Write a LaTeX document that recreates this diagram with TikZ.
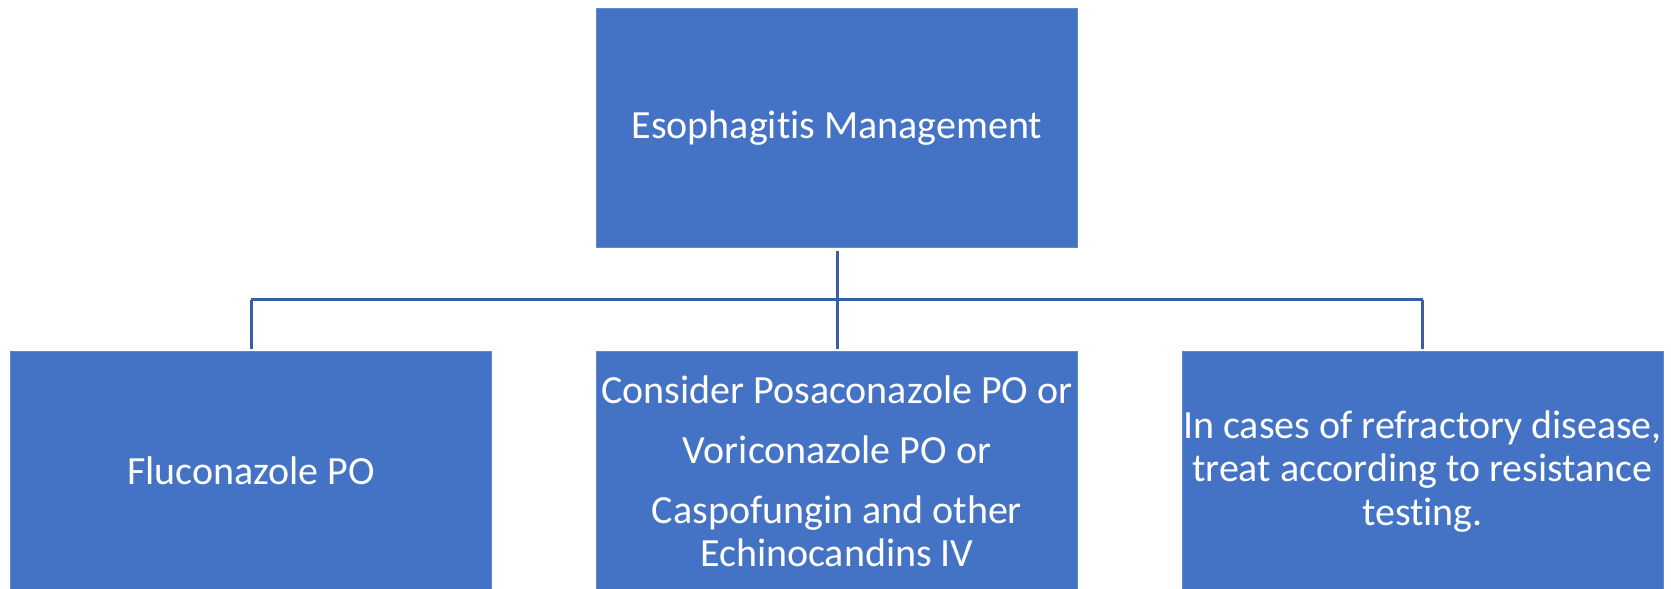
\documentclass[tikz,border=0pt]{standalone}
\usepackage{fontspec}
\setmainfont{Carlito}[Ligatures=NoCommon]
\definecolor{boxblue}{HTML}{4472C4}
\definecolor{lineblue}{HTML}{3A5DA6}
\begin{document}
\begin{tikzpicture}[x=0.5pt, y=0.5pt, line join=round,
	box/.style={fill=boxblue, draw=boxblue!85!white, line width=0.4pt, text=white, align=center,
		minimum width=240.5pt, minimum height=119.5pt, inner sep=0pt, font=\fontsize{20}{21.7}\selectfont},
	link/.style={draw=lineblue, line width=1.5pt}]
			\useasboundingbox (0,0) rectangle (1671,589);
			% Các hộp
			\node[box] (esoph) at (837,461.2) {Esophagitis Management};
			\node[box] (fluco) at (251.3,117.8) {Fluconazole PO};
			\node[box] (alter) at (837,117.8) {Consider Posaconazole PO or\\[8.3pt]Voriconazole PO or\\[8.3pt]Caspofungin and other\\Echinocandins IV};
			\node[box] (refr) at (1422.5,117.8) {In cases of refractory disease,\\treat according to resistance\\testing.};
			% Đường nối
			\coordinate (hub) at (837,289);
			\draw[link] ([yshift=-1.7pt]esoph.south) -- (hub);
			\draw[link] (hub -| fluco.north) -- (hub -| refr.north);
			\foreach \b in {fluco,alter,refr}
				\draw[link] (hub -| \b.north) -- ([yshift=1.35pt]\b.north);
		\end{tikzpicture}
\end{document}
